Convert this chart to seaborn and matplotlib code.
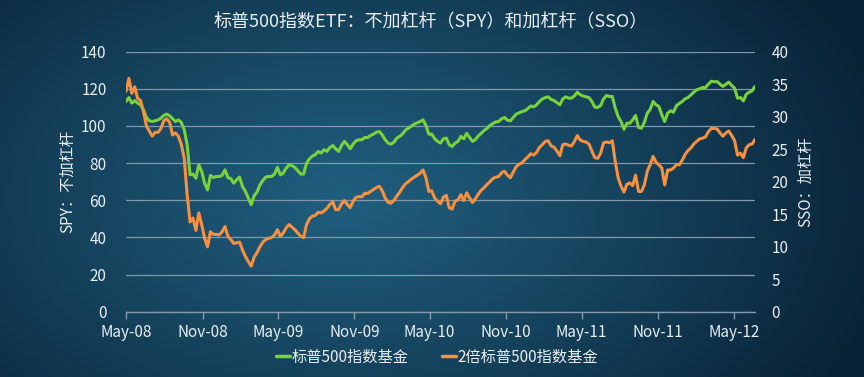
import numpy as np
import pandas as pd
import matplotlib
matplotlib.use("Agg")
import matplotlib.pyplot as plt
import matplotlib.dates as mdates
from matplotlib.lines import Line2D
import seaborn as sns

start_date = "2008-05-01"

spy = [113.2, 115.3, 112.3, 113.7, 112.3, 111.4, 108.7, 104.6, 102.8, 102.4, 102.8, 103.3, 104.2, 105.7, 106.4, 105.5, 103.9, 102.4, 103.3, 101.9, 97.9, 89.9, 73.7, 74.1, 71.9, 79.1, 75.5, 69.2, 65.6, 73.4, 72.3, 72.8, 72.8, 73.4, 76.4, 72.3,
       71.6, 69.2, 71.0, 72.5, 67.4, 64.8, 61.2, 57.6, 62.4, 64.4, 68.3, 70.7, 72.5, 72.8, 72.8, 74.1, 77.7, 73.7, 74.6, 77.3, 79.1, 78.6, 77.7, 75.9, 74.1, 74.1, 80.0, 82.3, 83.8, 84.5, 86.3, 85.4, 87.2, 86.3, 88.4, 89.5,
       87.7, 86.3, 89.5, 91.7, 89.9, 87.7, 90.2, 92.0, 92.6, 92.6, 93.8, 93.8, 94.9, 95.6, 96.7, 97.0, 95.2, 92.6, 90.8, 90.2, 91.3, 93.5, 94.4, 95.8, 97.8, 98.8, 99.9, 101.0, 101.7, 102.4, 103.3, 100.3, 95.6, 95.6, 93.1, 91.7,
       90.8, 93.1, 93.5, 89.9, 89.0, 90.8, 91.7, 94.4, 93.1, 96.1, 93.8, 91.7, 92.7, 94.7, 96.1, 97.6, 98.7, 100.3, 101.3, 102.2, 102.4, 103.9, 104.6, 103.1, 102.8, 104.6, 106.4, 107.1, 107.8, 108.2, 109.4, 110.7, 110.3, 111.4, 113.2, 114.6,
       115.3, 115.7, 114.3, 113.7, 112.5, 111.4, 114.6, 115.7, 115.0, 115.0, 116.2, 118.2, 116.8, 116.1, 115.7, 115.3, 113.2, 110.1, 110.0, 111.0, 114.6, 116.4, 115.9, 115.9, 109.6, 105.1, 102.4, 98.3, 101.5, 101.5, 103.3, 105.7, 99.2, 98.8, 101.9, 106.9,
       108.9, 113.2, 111.4, 110.5, 106.0, 102.4, 106.9, 108.2, 107.4, 110.9, 112.1, 113.2, 114.6, 115.3, 116.8, 118.2, 119.5, 120.0, 120.7, 120.7, 122.5, 124.1, 123.8, 123.9, 122.5, 121.3, 122.5, 123.6, 121.8, 120.4, 115.0, 115.3, 113.5, 117.1, 118.2, 118.9, 121.3]

sso = [33.9, 35.9, 33.6, 34.6, 32.8, 32.5, 30.8, 28.6, 27.8, 27.0, 27.6, 27.6, 28.2, 29.4, 29.7, 29.1, 27.2, 27.5, 27.0, 25.7, 23.6, 18.0, 13.8, 14.4, 12.5, 15.2, 13.4, 11.3, 10.0, 12.3, 11.9, 11.9, 11.8, 12.3, 13.1, 11.6,
       11.1, 10.5, 10.6, 10.7, 9.5, 8.5, 7.7, 7.0, 8.4, 9.1, 10.0, 10.7, 11.1, 11.3, 11.4, 11.8, 12.6, 11.6, 12.1, 12.9, 13.4, 13.0, 12.6, 12.1, 11.6, 11.4, 13.4, 14.3, 14.7, 14.8, 15.3, 15.2, 15.5, 15.9, 16.5, 16.9,
       15.7, 15.7, 16.6, 17.1, 16.5, 16.0, 17.0, 17.6, 17.7, 17.7, 18.2, 18.2, 18.5, 18.8, 19.1, 19.3, 18.6, 17.5, 16.8, 16.7, 17.1, 17.8, 18.4, 19.1, 19.7, 20.0, 20.4, 20.7, 21.0, 21.3, 21.8, 20.6, 18.5, 18.6, 17.5, 17.0,
       16.6, 17.6, 17.9, 16.0, 15.8, 17.0, 17.2, 18.0, 17.1, 18.3, 17.5, 16.8, 17.4, 18.1, 18.7, 19.1, 19.6, 20.0, 20.5, 20.7, 20.8, 21.4, 21.6, 21.0, 20.6, 21.5, 22.3, 22.7, 22.9, 23.4, 23.8, 24.3, 24.1, 24.5, 25.3, 25.7,
       26.2, 26.3, 25.5, 25.3, 24.7, 24.0, 25.7, 25.8, 25.6, 25.5, 26.2, 27.1, 26.4, 26.2, 26.1, 25.8, 24.7, 23.7, 23.6, 24.4, 26.0, 26.1, 26.0, 26.3, 23.1, 20.6, 19.3, 18.4, 19.6, 19.8, 19.4, 21.0, 18.5, 18.5, 19.5, 21.6,
       22.6, 23.9, 23.0, 22.6, 22.1, 19.5, 21.8, 21.8, 22.1, 22.6, 22.6, 23.3, 24.2, 24.8, 25.2, 25.8, 26.2, 26.6, 26.7, 26.9, 27.7, 28.2, 28.2, 28.1, 27.5, 27.0, 27.5, 27.8, 27.1, 26.3, 24.1, 24.4, 23.7, 25.2, 25.7, 25.8, 26.5]

title = "标普500指数ETF：不加杠杆（SPY）和加杠杆（SSO）"
left_label = "SPY：不加杠杆"
right_label = "SSO：加杠杆"
series_names = ["标普500指数基金", "2倍标普500指数基金"]
left_ticks = list(range(0, 141, 20))
right_ticks = list(range(0, 41, 5))

n = min(len(spy), len(sso))
dates = pd.date_range(start_date, periods=n, freq="7D")
df = pd.DataFrame({"date": dates, "spy": spy[:n], "sso": sso[:n]})

sns.set_theme(style="ticks")
plt.rcParams["font.family"] = ["Noto Sans CJK SC", "DejaVu Sans"]
plt.rcParams["axes.unicode_minus"] = False

GREEN = "#78D23C"
ORANGE = "#F7903F"
TXT = "#E8EEF3"
GRID = "#8299AB"

fig = plt.figure(figsize=(8.64, 3.77), dpi=100)

# radial gradient background
bg = fig.add_axes([0, 0, 1, 1], zorder=0)
h, w = 377, 864
yy, xx = np.mgrid[0:h, 0:w]
cx, cy = 0.40 * w, 0.52 * h
r = np.sqrt(((xx - cx) / (0.65 * w)) ** 2 + ((yy - cy) / (0.95 * h)) ** 2)
r = np.clip(r, 0, 1) ** 1.1
c0 = np.array([0x20, 0x5E, 0x7E]) / 255
c1 = np.array([0x09, 0x22, 0x36]) / 255
img = c0 * (1 - r[..., None]) + c1 * r[..., None]
bg.imshow(img, aspect="auto", extent=[0, 1, 0, 1])
bg.axis("off")

ax = fig.add_axes([126 / 864, 65.3 / 377, 629 / 864, 260 / 377], zorder=1)
ax.patch.set_alpha(0)
ax2 = ax.twinx()
ax2.patch.set_alpha(0)

sns.lineplot(data=df, x="date", y="spy", ax=ax, color=GREEN, lw=2.2, legend=False)
sns.lineplot(data=df, x="date", y="sso", ax=ax2, color=ORANGE, lw=2.2, legend=False)

ax.set_ylim(0, 140)
ax.set_yticks(left_ticks)
ax2.set_ylim(0, 40)
ax2.set_yticks(right_ticks)
ax.set_xlim(dates[0], dates[-1])

ax.xaxis.set_major_locator(mdates.MonthLocator(bymonth=[5, 11]))
ax.xaxis.set_major_formatter(mdates.DateFormatter("%b-%y"))

ax.yaxis.grid(True, color=GRID, lw=0.9)
ax.xaxis.grid(False)
ax2.grid(False)

for a in (ax, ax2):
    for s in a.spines.values():
        s.set_visible(False)
ax.spines["bottom"].set_visible(True)
ax.spines["bottom"].set_color(GRID)
ax.spines["bottom"].set_linewidth(1.0)

ax.tick_params(axis="x", colors=GRID, labelcolor=TXT, labelsize=11, length=5, width=1, direction="out", pad=4)
ax.tick_params(axis="y", length=0, labelcolor=TXT, labelsize=11, pad=14)
ax2.tick_params(axis="y", length=0, labelcolor=TXT, labelsize=11, pad=12)

ax.set_xlabel("")
ax.set_ylabel(left_label, color=TXT, fontsize=11, rotation=90, ha="center", va="center")
ax.yaxis.set_label_coords((68 - 126) / 629, 0.5)
ax2.set_ylabel(right_label, color=TXT, fontsize=11, rotation=90, ha="center", va="center")
ax2.yaxis.set_label_coords((806 - 126) / 629, 0.5)

fig.text(0.498, 1 - 22 / 377, title, color=TXT, fontsize=13, ha="center", va="center")

handles = [Line2D([], [], color=GREEN, lw=2.5), Line2D([], [], color=ORANGE, lw=2.5)]
fig.legend(handles, series_names, loc="center", bbox_to_anchor=(0.506, 1 - 357 / 377), ncol=2,
           frameon=False, handlelength=0.9, handletextpad=0.1, columnspacing=2.2,
           fontsize=11, labelcolor=TXT)

fig.savefig("out.png", dpi=100)
